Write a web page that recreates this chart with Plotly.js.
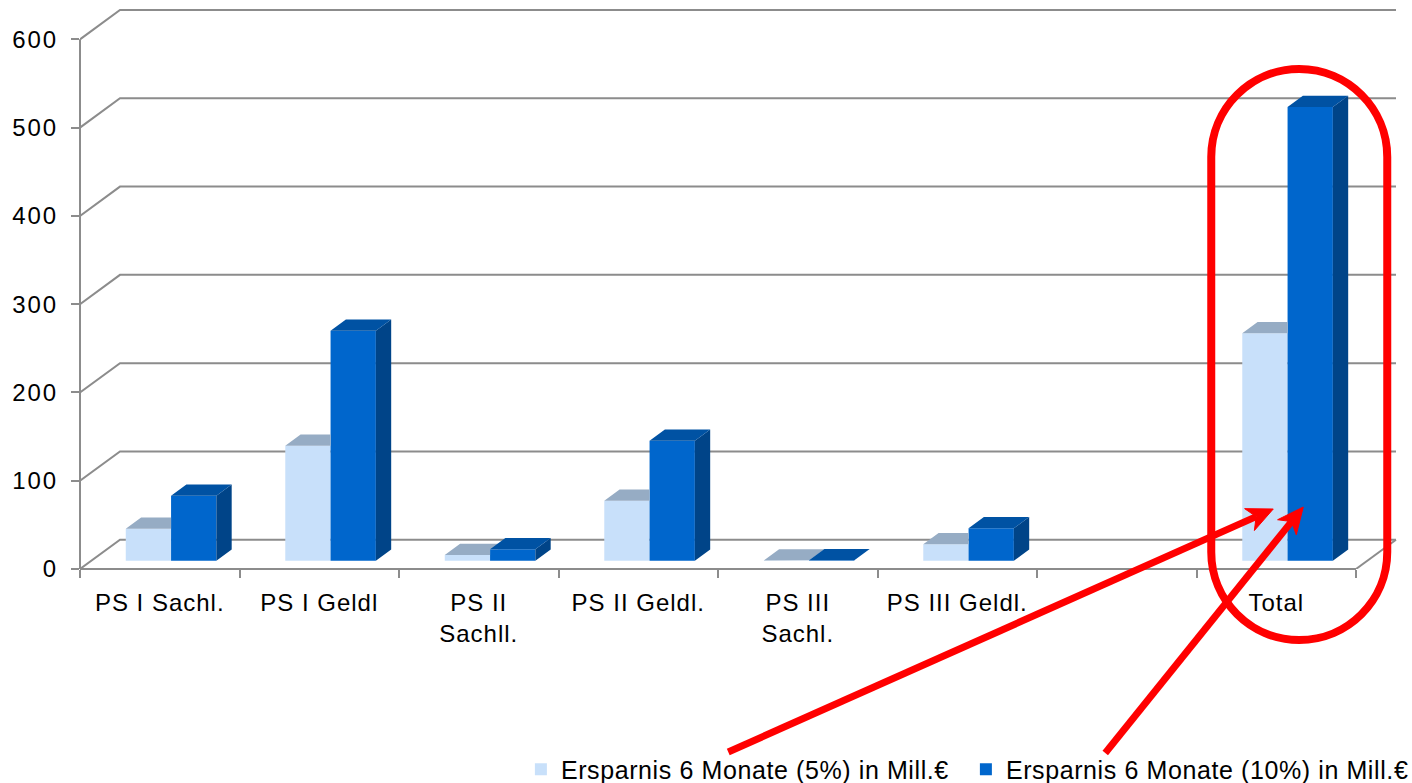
<!DOCTYPE html>
<html>
<head>
<meta charset="utf-8">
<script src="https://cdn.plot.ly/plotly-3.0.1.min.js"></script>
<style>
html,body{margin:0;padding:0;background:#fff;}
#chart{width:1412px;height:783px;}
.xtick text{letter-spacing:1px;}
.ytick text{letter-spacing:2px;}
.legendtext{letter-spacing:0.6px;}
</style>
</head>
<body>
<div id="chart"></div>
<script>
// ---------- data ----------
const categories = ["PS I Sachl.", "PS I Geldl", "PS II<br>Sachll.", "PS II Geldl.", "PS III<br>Sachl.", "PS III Geldl.", "", "Total"];
const saving5 = [36.2, 130.3, 6.5, 68, 0.3, 18.6, null, 257.6];
const saving10 = [73.6, 260.5, 12.9, 136, 0.5, 36.7, null, 514];
const seriesNames = ["Ersparnis 6 Monate (5%) in Mill.€", "Ersparnis 6 Monate (10%) in Mill.€"];
const yTickValues = [0, 100, 200, 300, 400, 500, 600];

// ---------- style / geometry ----------
const W = 1412, H = 783;
const M = {l: 80, r: 10, t: 5, b: 214, autoexpand: false};
const PX_CAT = 159.5, PX_UNIT = 0.8828;
const plotW = W - M.l - M.r, plotH = H - M.t - M.b;
const xMin = -0.5, xMax = xMin + plotW / PX_CAT;
const yMax = plotH / PX_UNIT;
const nCat = categories.length;
const DX = 40 / PX_CAT, DY = 29.3 / PX_UNIT;       // full depth of 3D box
const f0 = 0.283, fb = 0.383;                       // bar front depth, bar depth
const sx = f0 * DX, sy = f0 * DY, bdx = fb * DX, bdy = fb * DY;
const bw = 45.3 / PX_CAT;
const gridColor = "#8C8C8C";
const lightFront = "#C8E0FA", lightTop = "#96ACC4";
const darkFront = "#0066CC", darkTop = "#0052A3", darkSide = "#004488";
const FONT = "Liberation Sans, Arial, sans-serif";
const RED = "#FF0000";

const idx = categories.map((c, i) => i);

// front faces (bars)
const barLight = {
  type: "bar", name: seriesNames[0],
  x: idx.map(i => i + sx), y: saving5, base: sy, width: bw, offset: -bw,
  marker: {color: lightFront, line: {width: 0}}, hoverinfo: "y"
};
const barDark = {
  type: "bar", name: seriesNames[1],
  x: idx.map(i => i + sx), y: saving10, base: sy, width: bw, offset: 0,
  marker: {color: darkFront, line: {width: 0}}, hoverinfo: "y"
};

// top / side faces
const lt = {x: [], y: []}, dt = {x: [], y: []}, ds = {x: [], y: []};
idx.forEach(i => {
  const v5 = saving5[i], v10 = saving10[i];
  if (v5 == null || v10 == null) return;
  const t = sy + v5, td = sy + v10;
  const x0 = i + sx - bw, x1 = i + sx, x2 = i + sx + bw;
  const tdc = Math.min(Math.max(td, t), t + bdy);
  const cut = x1 + bdx * (tdc - t) / bdy;
  lt.x.push(x0, x1, x1, cut, x1 + bdx, x0 + bdx, x0, null);
  lt.y.push(t, t, tdc, tdc, t + bdy, t + bdy, t, null);
  ds.x.push(x2, x2 + bdx, x2 + bdx, x2, x2, null);
  ds.y.push(sy, sy + bdy, td + bdy, td, sy, null);
  dt.x.push(x1, x2, x2 + bdx, x1 + bdx, x1, null);
  dt.y.push(td, td, td + bdy, td + bdy, td, null);
});
function face(p, color) {
  return {type: "scatter", mode: "lines", x: p.x, y: p.y, fill: "toself",
    fillcolor: color, line: {width: 0, color: color}, showlegend: false, hoverinfo: "skip"};
}

// gridlines / box edges as shapes below traces
const shapes = [];
yTickValues.forEach(v => {
  shapes.push({type: "path", xref: "x", yref: "y", layer: "below",
    path: `M${xMin},${v} L${xMin + DX},${v + DY} L${nCat - 0.5 + DX},${v + DY}`,
    line: {color: gridColor, width: 2}});
});
// right floor edge
shapes.push({type: "line", xref: "x", yref: "y", layer: "below",
  x0: nCat - 0.5, y0: 0, x1: nCat - 0.5 + DX, y1: DY, line: {color: gridColor, width: 2}});
// front category axis line
shapes.push({type: "line", xref: "x", yref: "paper", layer: "below",
  x0: xMin, y0: 0, x1: nCat - 0.5, y1: 0, line: {color: gridColor, width: 2}});
// front value axis line
shapes.push({type: "line", xref: "paper", yref: "y", layer: "below",
  x0: 0, y0: 0, x1: 0, y1: yTickValues[yTickValues.length - 1], line: {color: gridColor, width: 2}});

// red highlight around Total (pixel offsets from the Total category at the axis)
const totalIdx = categories.indexOf("Total");
const ax0 = (totalIdx - xMin) / (xMax - xMin);
const cxp = 23, rr = 88, Lp = cxp - rr, Rp = cxp + rr, Tp = 500, Bp = -71, k = 0.5523 * rr;
const stad = `M${Lp},${Bp + rr} L${Lp},${Tp - rr} C${Lp},${Tp - rr + k} ${cxp - k},${Tp} ${cxp},${Tp} ` +
  `C${cxp + k},${Tp} ${Rp},${Tp - rr + k} ${Rp},${Tp - rr} L${Rp},${Bp + rr} ` +
  `C${Rp},${Bp + rr - k} ${cxp + k},${Bp} ${cxp},${Bp} C${cxp - k},${Bp} ${Lp},${Bp + rr - k} ${Lp},${Bp + rr} Z`;
const pix = {xref: "paper", yref: "paper", xsizemode: "pixel", ysizemode: "pixel", xanchor: ax0, yanchor: 0, layer: "above"};
shapes.push(Object.assign({type: "path", path: stad, line: {color: RED, width: 8}}, pix));

// red arrows: [tail, tip] in pixel offsets (y up)
const arrows = [[[-548, -183], [-3, 60]], [[-171, -184], [27, 62]]];
const HL = 26, HW = 12;
arrows.forEach(([s, t]) => {
  const dx = t[0] - s[0], dy = t[1] - s[1], len = Math.hypot(dx, dy);
  const ux = dx / len, uy = dy / len, nx = -uy, ny = ux;
  const bx = t[0] - ux * HL, by = t[1] - uy * HL;
  const nxp = t[0] - ux * HL * 0.72, nyp = t[1] - uy * HL * 0.72;
  shapes.push(Object.assign({type: "path", path: `M${s[0]},${s[1]} L${nxp},${nyp}`,
    line: {color: RED, width: 7}}, pix));
  shapes.push(Object.assign({type: "path",
    path: `M${t[0]},${t[1]} L${bx + nx * HW},${by + ny * HW} L${nxp},${nyp} L${bx - nx * HW},${by - ny * HW} Z`,
    fillcolor: RED, line: {color: RED, width: 1}}, pix));
});

const layout = {
  width: W, height: H, margin: M,
  paper_bgcolor: "#fff", plot_bgcolor: "rgba(0,0,0,0)",
  font: {family: FONT, color: "#000", size: 24},
  barmode: "overlay", showlegend: true,
  xaxis: {range: [xMin, xMax], tickmode: "array", tickvals: idx, ticktext: categories,
    ticks: "", showgrid: false, zeroline: false, showline: false, automargin: false,
    tickfont: {size: 24, family: FONT, color: "#000"}, ticklabelstandoff: 17,
    minor: {tickmode: "linear", tick0: -0.5, dtick: 1, ticks: "outside", ticklen: 8,
      tickwidth: 2, tickcolor: gridColor, showgrid: false},
    fixedrange: true},
  yaxis: {range: [0, yMax], tickmode: "array", tickvals: yTickValues, ticks: "outside",
    ticklen: 8, tickwidth: 2, tickcolor: gridColor, showgrid: false, zeroline: false,
    showline: false, automargin: false, tickfont: {size: 24, family: FONT, color: "#000"}, ticklabelstandoff: 8,
    fixedrange: true},
  legend: {orientation: "h", x: 0.3335, xanchor: "left", y: -0.3555, yanchor: "middle",
    entrywidth: 400, entrywidthmode: "pixels",
    font: {size: 25, family: FONT, color: "#000"}, bgcolor: "rgba(0,0,0,0)", traceorder: "normal"},
  shapes: shapes
};

Plotly.newPlot("chart", [barLight, barDark, face(lt, lightTop), face(ds, darkSide), face(dt, darkTop)],
  layout, {displayModeBar: false, staticPlot: true});
</script>
</body>
</html>
